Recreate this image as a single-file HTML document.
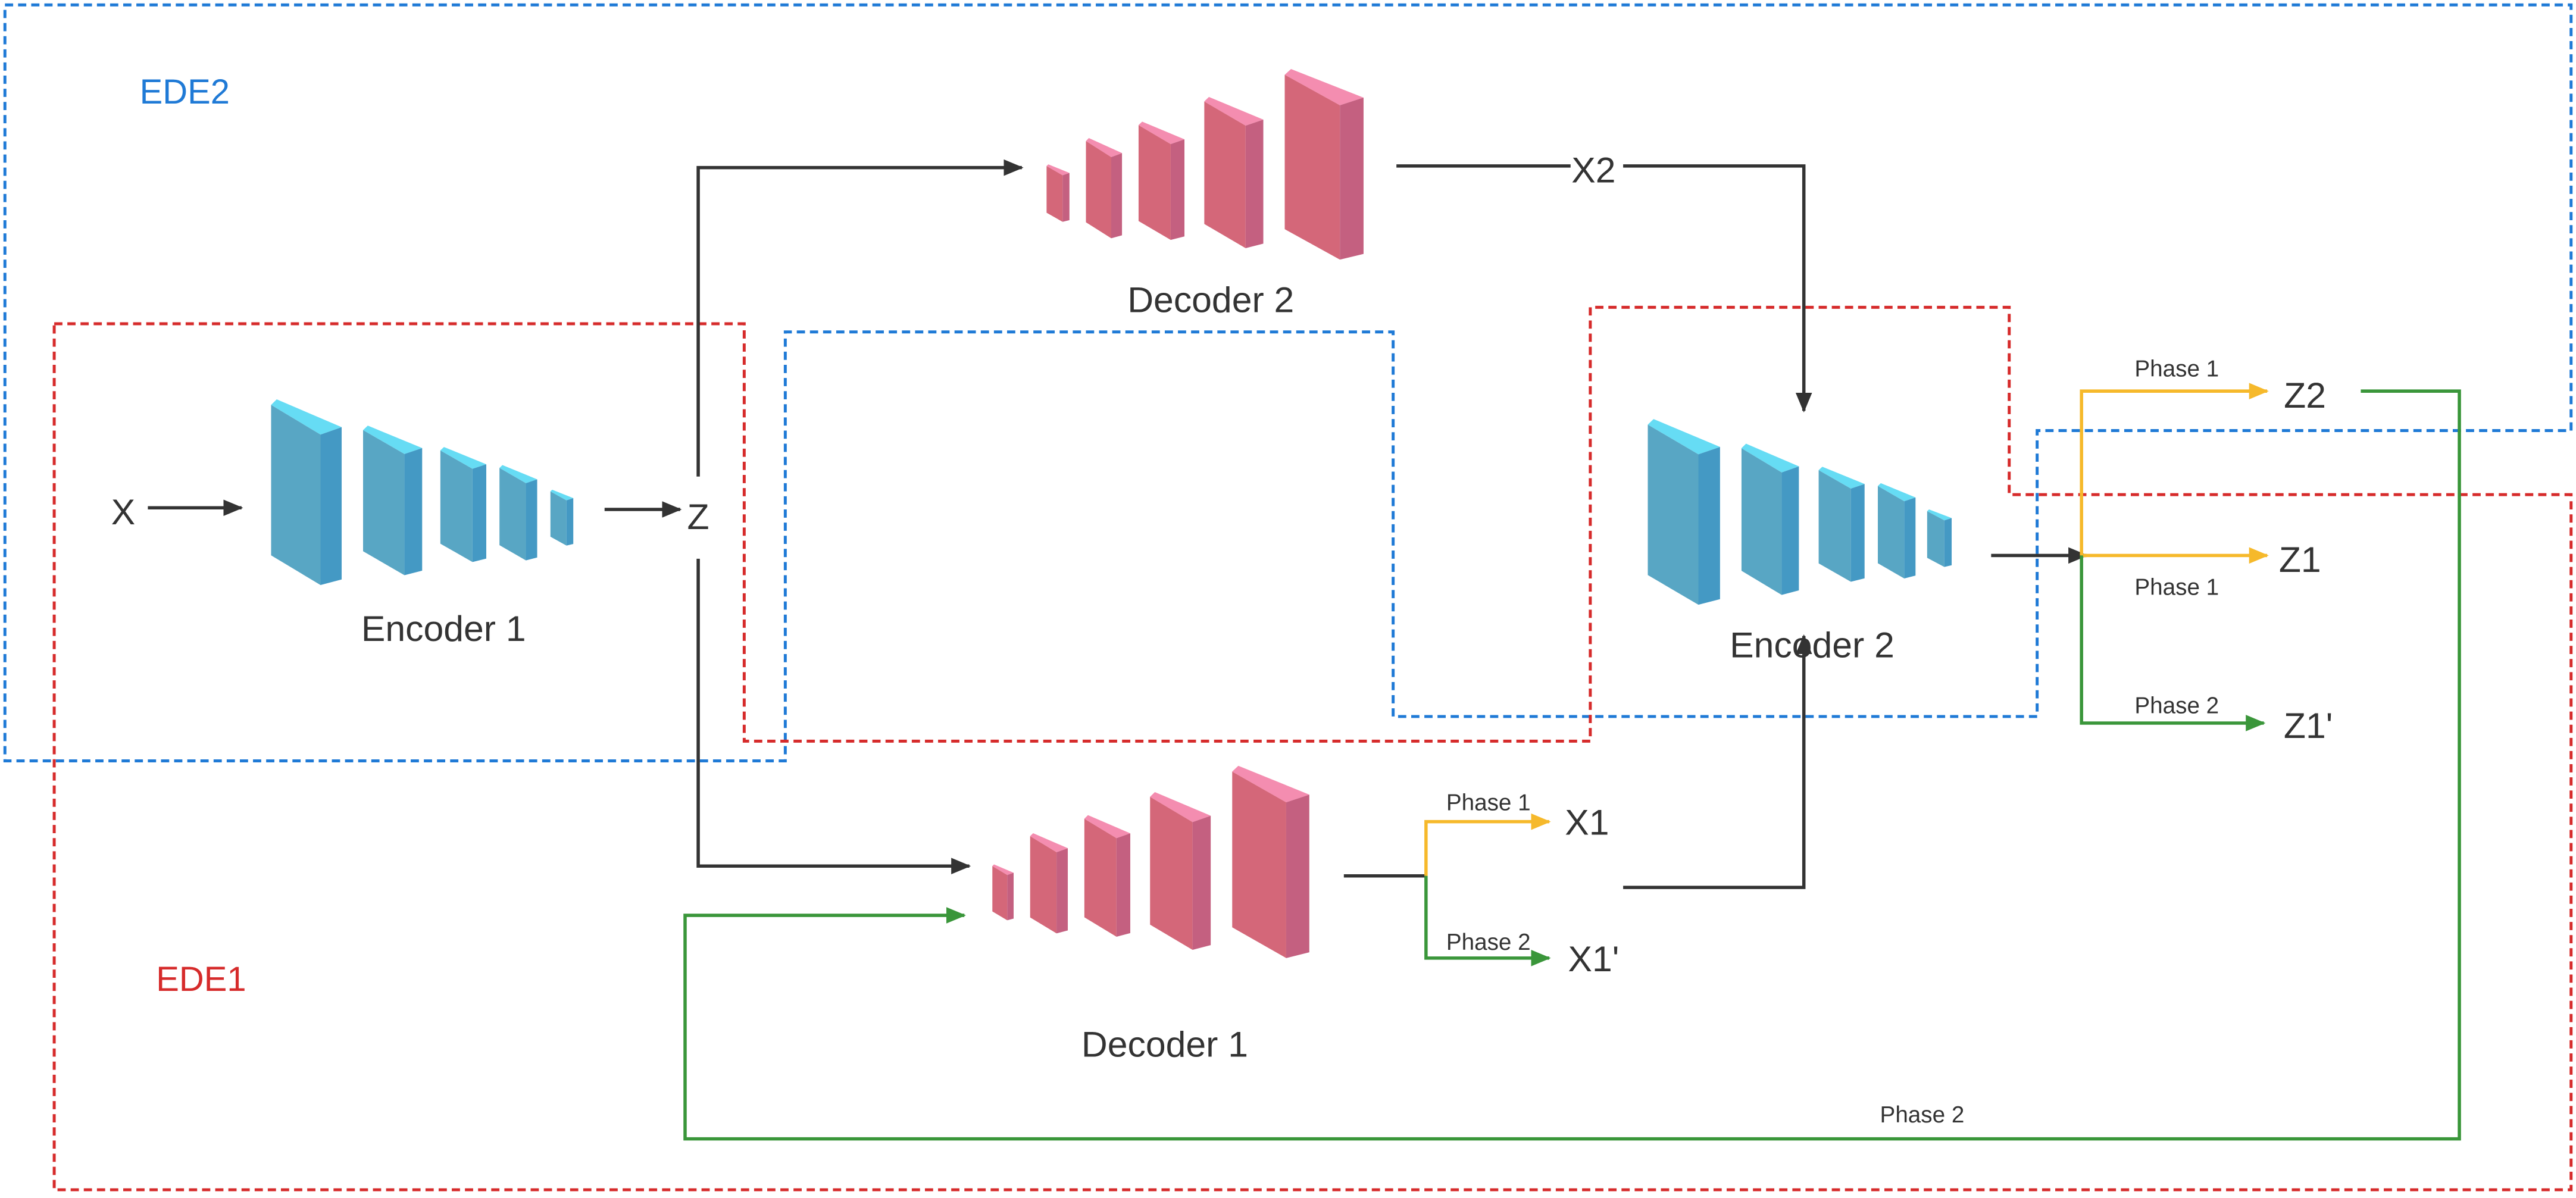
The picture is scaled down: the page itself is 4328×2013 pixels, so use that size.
<!DOCTYPE html>
<html><head><meta charset="utf-8"><style>
html,body{margin:0;padding:0;background:#fff}
svg{display:block}
text{font-family:"Liberation Sans Narrow","Liberation Sans","DejaVu Sans",sans-serif;fill:#333}
</style></head><body>
<svg width="4328" height="2013" viewBox="0 0 1568 729" preserveAspectRatio="none" xmlns="http://www.w3.org/2000/svg">
<defs>
<symbol id="eb" viewBox="0 0 100 100" preserveAspectRatio="none">
<polygon points="0,3 8,0 100,15 70,19" fill="#66dcf4"/>
<polygon points="0,3 70,19 70,100 0,84" fill="#58a6c4"/>
<polygon points="70,19 100,15 100,97 70,100" fill="#4499c4"/>
</symbol>
<symbol id="db" viewBox="0 0 100 100" preserveAspectRatio="none">
<polygon points="0,3 8,0 100,15 70,19" fill="#f48db0"/>
<polygon points="0,3 70,19 70,100 0,84" fill="#d46779"/>
<polygon points="70,19 100,15 100,97 70,100" fill="#c46080"/>
</symbol>
<marker id="ak" markerWidth="12" markerHeight="12" refX="11" refY="6" orient="auto" markerUnits="userSpaceOnUse"><path d="M0,1 L12,6 L0,11 Z" fill="#333"/></marker>
<marker id="ay" markerWidth="12" markerHeight="12" refX="11" refY="6" orient="auto" markerUnits="userSpaceOnUse"><path d="M0,1 L12,6 L0,11 Z" fill="#f6b92b"/></marker>
<marker id="ag" markerWidth="12" markerHeight="12" refX="11" refY="6" orient="auto" markerUnits="userSpaceOnUse"><path d="M0,1 L12,6 L0,11 Z" fill="#3a963a"/></marker>
</defs>

<path d="M3,3 H1565 V262 H1240 V436 H848 V202 H478 V463 H3 Z" fill="none" stroke="#1f7ad6" stroke-width="1.8" stroke-dasharray="5,3"/>
<path d="M33,197 H453 V451 H968 V187 H1223 V301 H1565 V724 H33 Z" fill="none" stroke="#d62b2b" stroke-width="1.8" stroke-dasharray="5,3"/>
<text x="85" y="63" font-size="21" style="fill:#1f7ad6">EDE2</text>
<text x="95" y="603" font-size="21" style="fill:#d62b2b">EDE1</text>

<use href="#eb" x="165" y="243" width="43" height="113"/>
<use href="#eb" x="221" y="259" width="36" height="91"/>
<use href="#eb" x="268" y="272" width="28" height="70"/>
<use href="#eb" x="304" y="283" width="23" height="58"/>
<use href="#eb" x="335" y="298" width="14" height="34"/>
<text x="270" y="390" font-size="22" text-anchor="middle">Encoder 1</text>
<text x="75" y="319" font-size="22" text-anchor="middle">X</text>
<line x1="90" y1="309" x2="147" y2="309" stroke="#333" stroke-width="2" marker-end="url(#ak)"/>
<line x1="368" y1="310" x2="414" y2="310" stroke="#333" stroke-width="2" marker-end="url(#ak)"/>
<text x="425" y="322" font-size="22" text-anchor="middle">Z</text>
<path d="M425,290 V102 H622" fill="none" stroke="#333" stroke-width="2" marker-end="url(#ak)"/>
<path d="M425,340 V527 H590" fill="none" stroke="#333" stroke-width="2" marker-end="url(#ak)"/>

<use href="#db" x="637" y="100" width="14" height="35"/>
<use href="#db" x="661" y="84" width="22" height="61"/>
<use href="#db" x="693" y="74" width="28" height="72"/>
<use href="#db" x="733" y="59" width="36" height="92"/>
<use href="#db" x="782" y="42" width="48" height="116"/>
<text x="737" y="190" font-size="22" text-anchor="middle">Decoder 2</text>
<line x1="850" y1="101" x2="956" y2="101" stroke="#333" stroke-width="2"/>
<text x="970" y="111" font-size="22" text-anchor="middle">X2</text>
<path d="M988,101 H1098 V250" fill="none" stroke="#333" stroke-width="2" marker-end="url(#ak)"/>

<use href="#eb" x="1003" y="255" width="44" height="113"/>
<use href="#eb" x="1060" y="270" width="35" height="92"/>
<use href="#eb" x="1107" y="284" width="28" height="70"/>
<use href="#eb" x="1143" y="294" width="23" height="58"/>
<use href="#eb" x="1173" y="310" width="15" height="35"/>
<text x="1103" y="400" font-size="22" text-anchor="middle">Encoder 2</text>
<line x1="1212" y1="338" x2="1270" y2="338" stroke="#333" stroke-width="2" marker-end="url(#ak)"/>

<path d="M1267,338 V238 H1380" fill="none" stroke="#f6b92b" stroke-width="2" marker-end="url(#ay)"/>
<line x1="1267" y1="338" x2="1380" y2="338" stroke="#f6b92b" stroke-width="2" marker-end="url(#ay)"/>
<path d="M1267,338 V440 H1378" fill="none" stroke="#3a963a" stroke-width="2" marker-end="url(#ag)"/>
<text x="1325" y="229" font-size="14" text-anchor="middle">Phase 1</text>
<text x="1325" y="362" font-size="14" text-anchor="middle">Phase 1</text>
<text x="1325" y="434" font-size="14" text-anchor="middle">Phase 2</text>
<text x="1403" y="248" font-size="22" text-anchor="middle">Z2</text>
<text x="1400" y="348" font-size="22" text-anchor="middle">Z1</text>
<text x="1405" y="449" font-size="22" text-anchor="middle">Z1'</text>

<path d="M1437,238 H1497 V693 H417 V557 H587" fill="none" stroke="#3a963a" stroke-width="2" marker-end="url(#ag)"/>
<text x="1170" y="683" font-size="14" text-anchor="middle">Phase 2</text>

<use href="#db" x="604" y="526" width="13" height="34"/>
<use href="#db" x="627" y="507" width="23" height="61"/>
<use href="#db" x="660" y="496" width="28" height="74"/>
<use href="#db" x="700" y="482" width="37" height="96"/>
<use href="#db" x="750" y="466" width="47" height="117"/>
<text x="709" y="643" font-size="22" text-anchor="middle">Decoder 1</text>
<line x1="818" y1="533" x2="868" y2="533" stroke="#333" stroke-width="2"/>
<path d="M868,533 V500 H943" fill="none" stroke="#f6b92b" stroke-width="2" marker-end="url(#ay)"/>
<path d="M868,533 V583 H943" fill="none" stroke="#3a963a" stroke-width="2" marker-end="url(#ag)"/>
<text x="906" y="493" font-size="14" text-anchor="middle">Phase 1</text>
<text x="906" y="578" font-size="14" text-anchor="middle">Phase 2</text>
<text x="966" y="508" font-size="22" text-anchor="middle">X1</text>
<text x="970" y="591" font-size="22" text-anchor="middle">X1'</text>
<path d="M988,540 H1098 V387" fill="none" stroke="#333" stroke-width="2" marker-end="url(#ak)"/>
</svg>
</body></html>
